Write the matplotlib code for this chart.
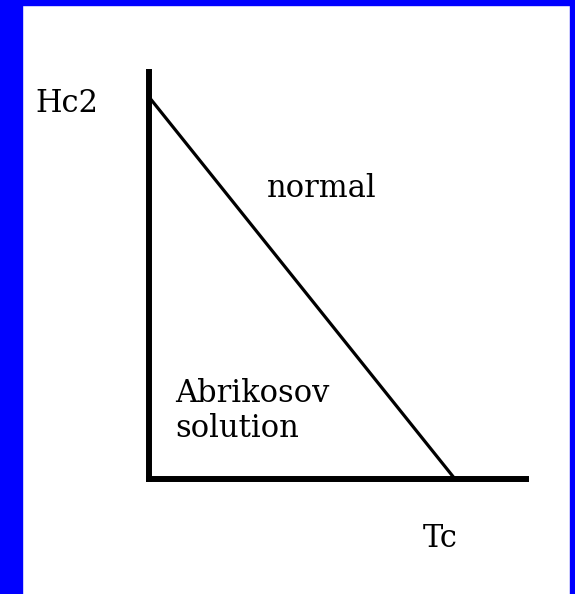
import matplotlib
matplotlib.use("Agg")
import matplotlib.pyplot as plt
from matplotlib.patches import Rectangle

# Data: linear upper critical field line Hc2(T), normalised
T_line = [0.0, 1.0]      # T / Tc
H_line = [1.0, 0.0]      # Hc2 / Hc2(0)
label_y = "Hc2"
label_x = "Tc"
region_upper = "normal"
region_lower = "Abrikosov\nsolution"

W, H = 575, 594
fig = plt.figure(figsize=(W / 100, H / 100), dpi=100)
fig.patch.set_facecolor("white")

# blue frame
for (x0, y0, w, h) in [(0, 0, 22, H), (570, 0, 5, H), (0, 0, W, 5)]:
    fig.patches.append(Rectangle((x0 / W, 1 - (y0 + h) / H), w / W, h / H,
                                 transform=fig.transFigure, color="#0000ff", zorder=0))

ox, oy = 149, 479
ax = fig.add_axes([ox / W, 1 - oy / H, (526 - ox) / W, (oy - 72) / H])
ax.set_xlim(0, (526 - ox) / (455 - ox))
ax.set_ylim(0, (oy - 72) / (oy - 97))
ax.set_facecolor("none")
for s in ["top", "right"]:
    ax.spines[s].set_visible(False)
for s in ["left", "bottom"]:
    ax.spines[s].set_linewidth(4.3)
    ax.spines[s].set_color("black")
    ax.spines[s].set_capstyle("projecting")
ax.set_xticks([])
ax.set_yticks([])
ax.plot(T_line, H_line, color="black", lw=2.3, solid_capstyle="butt", clip_on=False)

fs = 22
fam = "DejaVu Serif"
fig.text(35 / W, 1 - 112 / H, label_y, fontsize=fs, family=fam, ha="left", va="baseline")
fig.text(267 / W, 1 - 197 / H, region_upper, fontsize=fs, family=fam, ha="left", va="baseline")
fig.text(175 / W, 1 - 437 / H, region_lower, fontsize=fs, family=fam, ha="left", va="baseline",
         linespacing=1.15)
fig.text(423 / W, 1 - 547 / H, label_x, fontsize=fs, family=fam, ha="left", va="baseline")

fig.savefig("out.png", dpi=100)
